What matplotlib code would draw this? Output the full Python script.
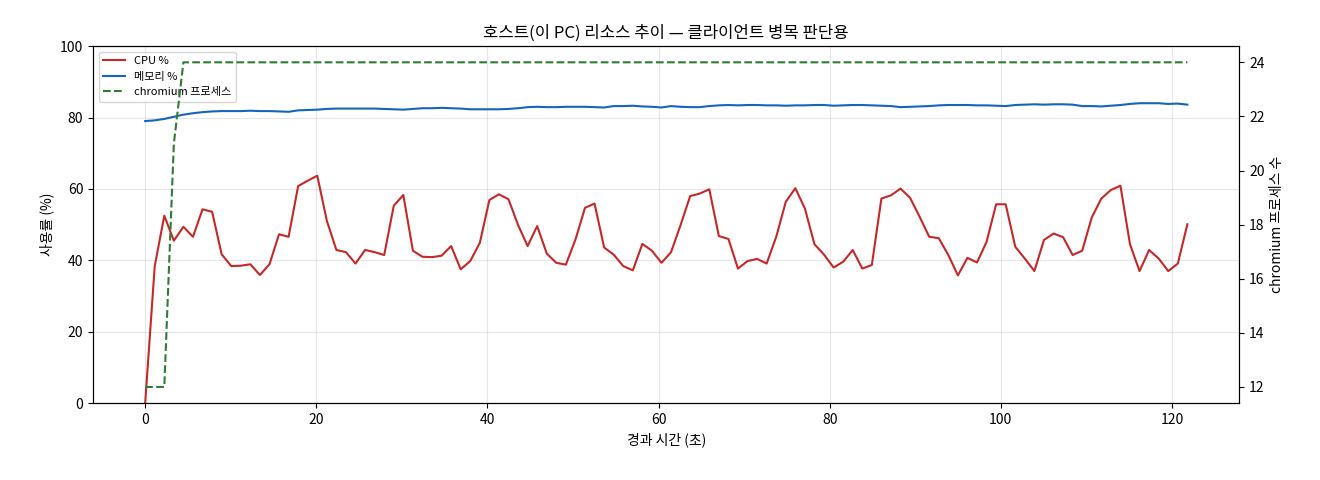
import numpy as np
import matplotlib
matplotlib.use("Agg")
import matplotlib.pyplot as plt

plt.rcParams['font.family'] = ['Noto Sans CJK KR', 'DejaVu Sans']

cpu = [0, 38.4, 52.5, 45.5, 49.4, 46.6, 54.3, 53.6, 41.7, 38.4, 38.5, 38.9, 35.9, 38.9, 47.3,
       46.6, 60.8, 62.3, 63.7, 51.1, 42.9, 42.3, 39.1, 42.9, 42.3, 41.5, 55.3, 58.3, 42.7, 41.0,
       40.9, 41.3, 44.0, 37.5, 39.8, 44.9, 56.9, 58.5, 57.1, 49.9, 44.0, 49.6, 41.9, 39.3, 38.8,
       45.8, 54.7, 55.9, 43.6, 41.6, 38.4, 37.2, 44.6, 42.7, 39.3, 42.3, 49.9, 58.0, 58.7, 59.9,
       46.8, 46.0, 37.7, 39.8, 40.4, 39.1, 46.6, 56.4, 60.2, 54.5, 44.5, 41.6, 38.0, 39.6, 42.9,
       37.7, 38.7, 57.3, 58.2, 60.1, 57.5, 52.2, 46.6, 46.2, 41.5, 35.8, 40.7, 39.4, 45.2, 55.7,
       55.7, 43.8, 40.5, 37.0, 45.7, 47.5, 46.5, 41.5, 42.7, 52.0, 57.3, 59.7, 60.9, 44.5, 37.0,
       42.9, 40.5, 37.0, 39.1, 50.1]

mem = [79.0, 79.2, 79.6, 80.2, 80.8, 81.2, 81.5, 81.7, 81.8, 81.8, 81.8, 81.9, 81.8, 81.8, 81.7,
       81.6, 82.0, 82.1, 82.2, 82.4, 82.5, 82.5, 82.5, 82.5, 82.5, 82.4, 82.3, 82.2, 82.4, 82.6,
       82.6, 82.7, 82.6, 82.5, 82.3, 82.3, 82.3, 82.3, 82.4, 82.6, 82.9, 83.0, 82.9, 82.9, 83.0,
       83.0, 83.0, 82.9, 82.8, 83.2, 83.2, 83.3, 83.1, 83.0, 82.8, 83.2, 83.0, 82.9, 82.9, 83.2,
       83.4, 83.5, 83.4, 83.5, 83.5, 83.4, 83.4, 83.3, 83.4, 83.4, 83.5, 83.5, 83.3, 83.4, 83.5,
       83.5, 83.4, 83.3, 83.2, 82.9, 83.0, 83.1, 83.2, 83.4, 83.5, 83.5, 83.5, 83.4, 83.4, 83.3,
       83.2, 83.5, 83.6, 83.7, 83.6, 83.7, 83.7, 83.6, 83.2, 83.2, 83.1, 83.3, 83.5, 83.8, 84.0,
       84.0, 84.0, 83.8, 83.9, 83.6]

chromium = [12, 12, 12, 21, 24] + [24] * (len(cpu) - 5)

t = np.linspace(0, 121.8, len(cpu))

fig, ax = plt.subplots(figsize=(13.2, 4.8), dpi=100)
fig.subplots_adjust(left=0.0705, right=0.939, top=0.904, bottom=0.16)
ax.plot(t, cpu, color='#c62828', linewidth=1.5, label='CPU %')
ax.plot(t, mem, color='#1565c0', linewidth=1.5, label='메모리 %')
ax.set_ylim(0, 100)
ax.set_xlabel('경과 시간 (초)')
ax.set_ylabel('사용률 (%)')
ax.grid(True, alpha=0.3)

ax2 = ax.twinx()
ax2.plot(t, chromium, color='#2e7d32', linestyle='--', linewidth=1.5, label='chromium 프로세스')
ax2.set_ylabel('chromium 프로세스 수')

h1, l1 = ax.get_legend_handles_labels()
h2, l2 = ax2.get_legend_handles_labels()
ax.legend(h1 + h2, l1 + l2, loc='upper left', fontsize=8)

ax.set_title('호스트(이 PC) 리소스 추이 — 클라이언트 병목 판단용')
fig.savefig('out.png')
